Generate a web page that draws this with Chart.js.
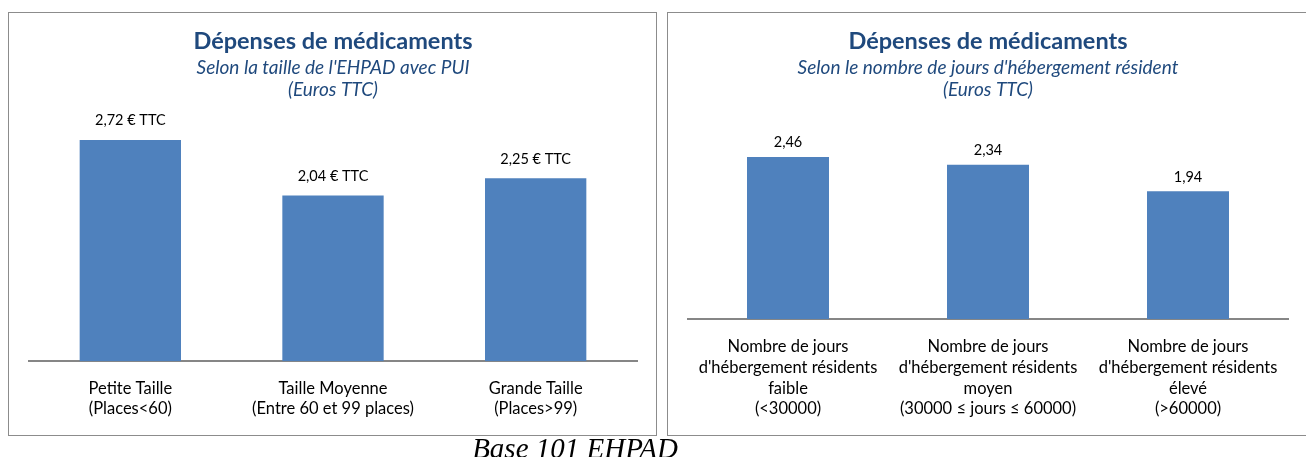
<!DOCTYPE html>
<html>
<head>
<meta charset="utf-8">
<script src="https://cdn.jsdelivr.net/npm/chart.js@4"></script>
<style>
  body { margin: 0; background: #fff; width: 1306px; height: 457px; overflow: hidden; position: relative; }
  .panel { position: absolute; top: 12px; height: 424px; border: 1px solid #8c8c8c; box-sizing: border-box; background: #fff; }
  #p1 { left: 8px; width: 649px; }
  #p2 { left: 667px; width: 650px; }
  .panel canvas { position: absolute; left: 0; top: 0; }
  #base { position: absolute; left: 0; width: 1150px; top: 432px; line-height: 32px; text-align: center;
          font-family: "Liberation Serif", serif; font-style: italic; font-size: 29px; color: #000; }
</style>
</head>
<body>
<div class="panel" id="p1"><canvas id="c1"></canvas></div>
<div class="panel" id="p2"><canvas id="c2"></canvas></div>
<div id="base">Base 101 EHPAD</div>
<script>
// données du graphique de gauche
const tailles = [["Petite Taille", "(Places<60)"], ["Taille Moyenne", "(Entre 60 et 99 places)"], ["Grande Taille", "(Places>99)"]];
const depTaille = [2.72, 2.04, 2.25];
const etiqTaille = ["2,72 € TTC", "2,04 € TTC", "2,25 € TTC"];

// données du graphique de droite
const jours = [
  ["Nombre de jours", "d'hébergement résidents", "faible", "(<30000)"],
  ["Nombre de jours", "d'hébergement résidents", "moyen", "(30000 ≤ jours ≤ 60000)"],
  ["Nombre de jours", "d'hébergement résidents", "élevé", "(>60000)"]
];
const depJours = [2.46, 2.34, 1.94];
const etiqJours = ["2,46", "2,34", "1,94"];

const bleu = "#4F81BD";
const titreCouleur = "#1F497D";
const police = "Lato, 'Open Sans', sans-serif";

// étiquettes au-dessus des barres
const etiquettes = {
  id: 'etiquettes',
  afterDatasetsDraw(chart, args, opts) {
    const c = chart.ctx;
    const meta = chart.getDatasetMeta(0);
    c.save();
    c.font = "14.5px " + police;
    c.fillStyle = "#000";
    c.textAlign = "center";
    c.textBaseline = "bottom";
    meta.data.forEach((bar, i) => {
      c.fillText(opts.textes[i], bar.x, bar.y - opts.ecart);
    });
    c.restore();
  }
};

function creaGraphique(id, w, h, labels, valeurs, textes, sousTitre, opt) {
  const cv = document.getElementById(id);
  cv.width = w; cv.height = h;
  cv.style.width = w + "px"; cv.style.height = h + "px";
  new Chart(cv, {
    type: 'bar',
    data: {
      labels: labels,
      datasets: [{
        data: valeurs,
        backgroundColor: bleu,
        borderWidth: 0,
        barPercentage: opt.barPct,
        categoryPercentage: 1
      }]
    },
    options: {
      responsive: false,
      animation: false,
      events: [],
      layout: { padding: { left: opt.padL, right: opt.padR, top: 0, bottom: opt.padB } },
      plugins: {
        legend: { display: false },
        tooltip: { enabled: false },
        title: {
          display: true,
          text: "Dépenses de médicaments",
          color: titreCouleur,
          font: { family: police, size: 23.5, weight: 'bold', lineHeight: 1.2 },
          padding: { top: 14, bottom: 2 }
        },
        subtitle: {
          display: true,
          text: sousTitre,
          color: titreCouleur,
          font: { family: police, size: 19, style: 'italic', lineHeight: 1.16 },
          padding: { top: 0, bottom: opt.subBottom }
        },
        etiquettes: { textes: textes, ecart: opt.ecart }
      },
      scales: {
        x: {
          grid: { display: false, drawTicks: false },
          border: { display: true, color: "#868686", width: 2 },
          ticks: { color: "#000", font: { family: police, size: 16.5, lineHeight: 1.25 }, padding: opt.tickPad, maxRotation: 0, autoSkip: false }
        },
        y: { display: false, min: 0, max: opt.ymax }
      }
    },
    plugins: [etiquettes]
  });
}

creaGraphique('c1', 647, 422, tailles, depTaille, etiqTaille,
  ["Selon la taille de l'EHPAD avec PUI", "(Euros TTC)"],
  { barPct: 0.5, padL: 20, padR: 19, padB: -1, subBottom: 16, tickPad: 16.7, ymax: 3, ecart: 12 });

creaGraphique('c2', 648, 422, jours, depJours, etiqJours,
  ["Selon le nombre de jours d'hébergement résident", "(Euros TTC)"],
  { barPct: 0.41, padL: 20, padR: 28, padB: -2, subBottom: 20, tickPad: 17.7, ymax: 3, ecart: 7 });
</script>
</body>
</html>
